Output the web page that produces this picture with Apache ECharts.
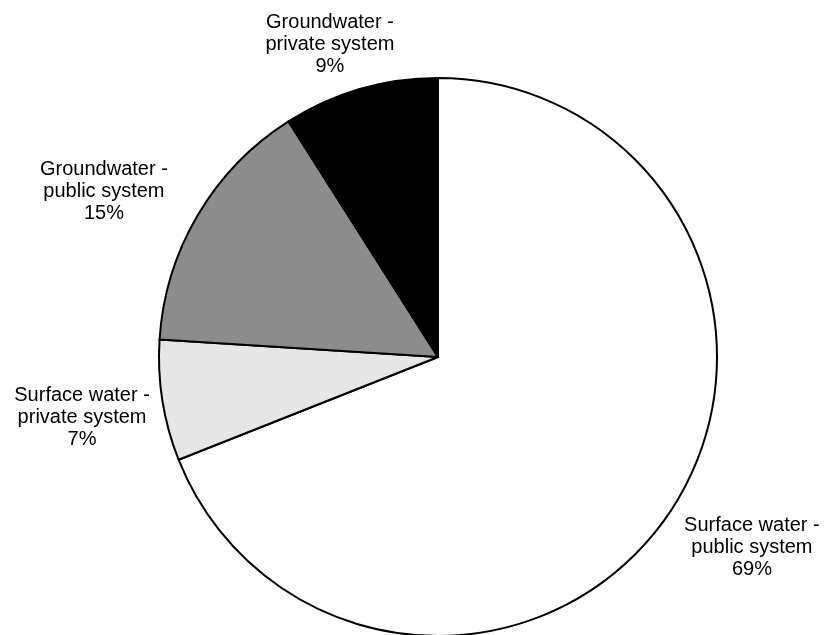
<!DOCTYPE html>
<html>
<head>
<meta charset="utf-8">
<script src="https://cdn.jsdelivr.net/npm/echarts@6/dist/echarts.min.js"></script>
<style>
  html, body { margin: 0; padding: 0; background: #fff; }
  #chart { width: 826px; height: 635px; }
</style>
</head>
<body>
<div id="chart"></div>
<script>
// Share of water supply by source and system type (percent)
const categories = [
  'Surface water -\npublic system',
  'Surface water -\nprivate system',
  'Groundwater -\npublic system',
  'Groundwater -\nprivate system'
];
const shares = [69, 7, 15, 9];
const sliceColors = ['#ffffff', '#e6e6e6', '#8c8c8c', '#000000'];

// Pie geometry and label placement (label centre: distance from pie centre, clockwise degrees from 12 o'clock)
const pieCenter = [438, 357];
const pieRadius = 279;
const labelPolar = [[367, 121.2], [361, 260.4], [373, 296.4], [330.2, 340.9]];

const chart = echarts.init(document.getElementById('chart'), null, { renderer: 'canvas' });

chart.setOption({
  backgroundColor: '#ffffff',
  animation: false,
  series: [{
    type: 'pie',
    center: pieCenter,
    radius: pieRadius,
    startAngle: 90,
    clockwise: true,
    avoidLabelOverlap: false,
    silent: true,
    data: categories.map((name, i) => ({
      name: name,
      value: shares[i],
      itemStyle: { color: sliceColors[i] }
    })),
    itemStyle: { borderColor: '#000000', borderWidth: 2 },
    label: {
      show: true,
      position: 'outside',
      fontFamily: '"Liberation Sans", Arial, sans-serif',
      fontSize: 20,
      lineHeight: 22,
      color: '#000000',
      formatter: p => p.name + '\n' + Math.round(p.percent) + '%'
    },
    labelLine: { show: false },
    labelLayout: params => {
      const [d, a] = labelPolar[params.dataIndex];
      const rad = a * Math.PI / 180;
      return {
        x: pieCenter[0] + d * Math.sin(rad),
        y: pieCenter[1] - d * Math.cos(rad),
        align: 'center',
        verticalAlign: 'middle'
      };
    },
    emphasis: { disabled: true }
  }]
});
</script>
</body>
</html>
